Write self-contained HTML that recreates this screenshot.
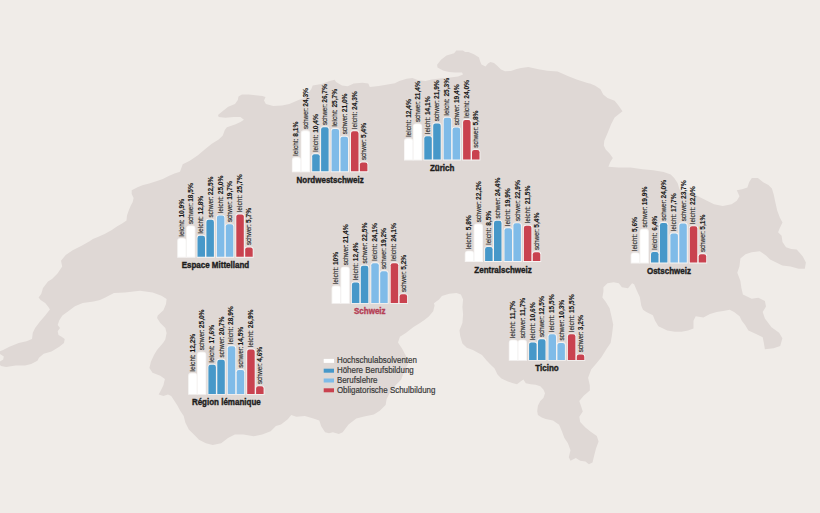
<!DOCTYPE html>
<html><head><meta charset="utf-8"><style>
html,body{margin:0;padding:0;background:#f0ece8;}
svg{display:block;}
.bar{stroke:#f6f4f3;stroke-width:1.8px;paint-order:stroke;}
.l{font-family:"Liberation Sans",sans-serif;font-size:7.0px;fill:#2e2e2e;stroke:#2e2e2e;stroke-width:0.16px;}
.s{letter-spacing:-0.3px;}
.b{font-weight:bold;fill:#161616;stroke:#161616;stroke-width:0.1px;}
.t{font-family:"Liberation Sans",sans-serif;font-size:8.0px;font-weight:bold;text-anchor:middle;stroke-width:0.35px;}
.lg{font-family:"Liberation Sans",sans-serif;font-size:8.2px;fill:#383838;stroke:#383838;stroke-width:0.18px;}
</style></head><body>
<svg width="820" height="513" viewBox="0 0 820 513">
<rect width="820" height="513" fill="#f0ece8"/>
<path d="M-2.0,352.3 L3.1,349.9 L9.4,346.8 L18.7,342.9 L26.5,341.3 L32.0,339.0 L32.8,332.8 L35.1,328.1 L39.8,321.8 L45.2,315.6 L49.9,309.4 L48.4,307.0 L45.2,303.1 L40.6,300.0 L38.6,297.5 L41.2,294.0 L43.0,288.0 L48.0,281.5 L52.0,279.0 L57.5,273.6 L62.2,266.5 L61.0,260.7 L65.7,254.9 L72.7,250.2 L82.1,245.5 L90.0,240.9 L92.9,238.9 L97.8,237.0 L104.6,234.1 L111.4,230.2 L117.3,226.3 L122.1,223.4 L126.5,220.4 L127.0,215.6 L129.0,209.7 L130.7,205.8 L132.7,201.9 L133.6,198.0 L131.7,194.1 L131.7,190.2 L137.5,187.3 L142.4,185.3 L149.2,183.4 L157.0,180.9 L162.8,179.0 L168.7,176.1 L174.5,173.6 L180.0,171.7 L182.7,164.3 L189.8,160.8 L196.8,156.0 L198.2,155.0 L205.0,149.2 L211.8,143.7 L218.7,139.6 L222.8,135.5 L224.8,130.0 L226.9,127.3 L235.0,124.6 L240.5,121.9 L243.9,119.8 L240.5,117.1 L233.7,117.1 L225.5,117.8 L218.7,117.1 L218.0,115.0 L222.8,110.9 L228.2,106.8 L235.0,104.1 L237.8,100.0 L238.5,96.6 L241.9,94.6 L248.7,94.6 L255.5,95.2 L262.4,95.9 L265.5,97.0 L264.0,100.5 L265.9,103.9 L273.2,106.1 L282.0,105.4 L289.3,103.9 L298.0,100.2 L303.9,98.0 L311.2,89.3 L312.7,85.6 L321.5,84.1 L328.8,81.2 L334.6,79.8 L336.1,82.0 L342.0,85.6 L347.8,86.3 L353.7,83.4 L362.4,82.7 L368.3,83.4 L369.8,87.1 L378.8,86.1 L387.6,84.6 L394.9,83.2 L399.3,81.0 L406.6,78.8 L412.4,78.0 L418.3,80.2 L425.6,81.0 L431.5,79.5 L440.0,78.5 L450.0,77.5 L458.0,76.5 L463.0,74.5 L462.0,72.5 L455.0,72.5 L449.0,72.0 L443.0,70.5 L437.5,67.5 L437.1,64.7 L441.0,59.8 L446.5,55.4 L454.1,53.2 L456.3,50.4 L462.9,50.4 L465.1,52.1 L468.4,52.1 L473.9,54.3 L478.3,57.0 L479.0,57.5 L480.2,61.5 L481.5,64.5 L485.5,66.5 L488.0,63.5 L490.5,62.0 L494.0,63.0 L497.5,66.0 L501.0,69.5 L505.0,71.2 L511.0,71.0 L516.7,69.0 L521.0,68.0 L528.3,67.1 L538.5,69.3 L547.3,70.7 L557.6,71.5 L567.8,75.9 L576.6,79.5 L588.3,83.2 L590.0,83.5 L595.3,85.8 L600.5,89.3 L603.2,94.6 L607.5,98.1 L614.6,100.7 L618.1,105.1 L622.5,111.2 L619.0,113.9 L614.6,117.4 L611.0,124.4 L607.5,133.2 L604.3,140.7 L603.8,145.6 L605.7,149.5 L609.6,153.4 L612.8,157.9 L610.2,162.3 L608.4,166.7 L618.1,167.5 L630.4,167.5 L642.6,169.3 L653.2,170.2 L663.7,171.9 L670.7,174.6 L674.2,178.1 L677.7,183.3 L679.5,189.5 L686.5,192.1 L695.3,194.7 L700.0,197.2 L707.0,200.7 L714.0,204.2 L722.8,206.0 L731.6,204.2 L736.8,200.7 L739.5,196.3 L736.8,190.2 L742.1,189.3 L747.4,187.5 L749.1,182.3 L751.8,177.9 L757.9,177.9 L763.2,182.3 L768.4,184.9 L771.9,188.4 L773.7,194.6 L775.4,202.5 L777.2,210.4 L779.8,217.4 L782.5,222.6 L779.8,227.9 L778.1,232.3 L781.6,235.8 L782.5,241.9 L786.0,247.2 L791.2,248.9 L796.7,249.5 L802.8,256.4 L805.9,262.5 L804.8,268.7 L798.7,268.7 L790.5,266.6 L782.3,265.6 L776.2,262.5 L770.1,259.4 L766.0,255.4 L759.8,251.3 L751.6,252.3 L745.5,254.3 L740.4,258.4 L739.4,266.6 L737.3,272.7 L740.4,281.0 L741.4,288.1 L742.9,294.4 L751.7,298.8 L758.3,297.7 L764.9,301.0 L766.0,306.5 L762.7,311.9 L764.9,318.5 L771.5,327.3 L779.1,332.8 L782.4,338.3 L780.2,346.0 L773.6,348.2 L764.9,349.3 L763.8,342.7 L762.7,337.2 L756.1,333.9 L748.4,330.6 L745.1,325.1 L741.8,320.7 L739.6,316.3 L734.1,311.9 L729.7,309.8 L723.2,310.9 L716.6,311.9 L710.0,314.1 L703.4,317.4 L695.7,316.3 L693.5,320.7 L693.5,328.4 L688.0,330.6 L681.5,331.7 L674.9,331.7 L667.2,330.6 L658.4,326.2 L655.1,320.7 L652.9,315.2 L646.3,311.9 L643.0,309.8 L641.3,305.7 L639.8,297.0 L637.0,291.0 L634.1,284.2 L632.1,283.2 L628.0,288.3 L621.9,287.3 L618.8,283.2 L613.7,282.2 L607.5,283.2 L603.4,287.3 L603.4,291.4 L602.4,297.5 L605.5,301.6 L609.6,308.2 L611.5,316.4 L613.2,324.6 L612.0,334.8 L610.6,343.0 L606.5,349.1 L601.4,357.3 L596.3,363.4 L591.2,369.6 L588.1,377.8 L589.8,385.3 L589.8,390.5 L583.7,395.8 L579.3,401.1 L581.1,406.3 L582.8,411.6 L579.3,416.8 L580.2,422.1 L585.4,427.4 L590.7,431.8 L596.8,436.1 L598.6,441.4 L596.0,448.4 L594.2,455.4 L592.5,462.5 L588.9,464.2 L585.4,461.6 L580.2,460.7 L575.8,458.1 L570.5,460.7 L568.8,457.2 L570.5,450.2 L567.9,443.2 L564.4,437.9 L561.8,430.9 L559.1,424.7 L553.0,420.4 L545.7,419.0 L541.8,417.4 L537.9,415.1 L537.2,411.2 L537.9,405.7 L540.3,401.1 L543.4,398.0 L545.0,393.3 L543.4,389.4 L540.3,386.2 L535.6,384.7 L530.7,384.2 L525.8,383.3 L523.4,379.4 L520.9,381.3 L517.0,384.2 L513.1,383.3 L507.3,381.3 L501.4,378.4 L497.5,374.5 L494.6,368.6 L490.7,364.7 L486.8,360.8 L482.0,355.0 L472.9,350.0 L466.8,347.8 L462.4,343.5 L460.2,336.1 L459.5,330.3 L462.4,323.0 L463.1,314.2 L462.4,306.9 L463.1,299.6 L460.9,294.5 L456.5,293.0 L449.2,293.8 L441.9,296.0 L439.0,299.6 L433.9,303.3 L434.6,305.5 L433.2,311.3 L428.8,316.4 L424.4,320.1 L420.0,323.0 L413.5,327.0 L405.8,332.9 L399.9,336.8 L398.0,342.6 L402.0,348.5 L406.0,356.0 L408.0,364.0 L404.0,372.0 L401.2,379.5 L395.4,385.4 L389.5,393.2 L386.6,399.0 L385.6,404.9 L379.8,410.7 L373.9,414.6 L364.1,416.6 L356.3,418.5 L348.5,424.4 L342.7,432.2 L338.8,434.1 L332.9,432.2 L329.0,433.2 L325.1,432.2 L321.2,426.3 L319.3,420.5 L313.4,418.5 L304.9,415.9 L296.3,416.7 L291.2,415.0 L287.8,419.3 L281.0,424.4 L275.9,426.1 L270.7,431.2 L262.2,434.6 L253.7,436.3 L243.4,434.6 L234.9,434.6 L228.0,438.0 L221.2,443.2 L212.7,444.9 L205.9,443.2 L199.0,439.8 L193.9,434.6 L188.8,429.5 L185.4,422.7 L183.7,415.9 L180.2,410.7 L177.4,405.5 L174.3,400.8 L171.2,396.1 L168.0,394.5 L163.4,396.1 L158.7,394.5 L160.3,391.4 L163.4,385.2 L164.9,379.0 L160.3,375.8 L152.5,372.7 L149.4,368.0 L150.9,361.8 L154.0,355.0 L157.0,350.0 L160.0,346.5 L163.0,343.0 L165.3,339.4 L166.6,333.1 L165.3,328.0 L160.3,323.0 L157.1,317.9 L157.7,315.4 L163.4,310.3 L166.0,304.0 L166.6,298.9 L161.5,295.8 L152.7,292.6 L140.0,290.7 L124.9,292.5 L114.0,293.0 L105.3,297.5 L100.0,300.0 L93.6,301.6 L82.7,303.1 L74.9,306.2 L68.6,310.9 L62.4,315.6 L59.3,320.3 L57.7,325.0 L60.0,328.1 L57.7,331.2 L58.5,335.1 L61.6,336.7 L64.7,339.0 L64.0,342.9 L59.3,346.8 L51.5,351.5 L43.7,353.8 L39.0,357.7 L37.4,360.8 L31.2,364.0 L25.0,365.5 L15.6,365.5 L6.2,367.0 L1.0,366.0 L-2.0,363.0 L0.0,361.5 L3.2,359.5 L3.8,356.5 L0.0,354.0Z" fill="#dfd8d5"/>
<path d="M292.80,171.30V160.13Q292.80,157.94 295.00,157.94H298.10Q300.30,157.94 300.30,160.13V171.30Z" fill="#ffffff" class="bar"/>
<text transform="translate(298.45,155.63) rotate(-90) scale(0.94,1.12)" class="l"><tspan>leicht: </tspan><tspan class="b">8,1%</tspan></text>
<path d="M301.70,171.30V133.41Q301.70,131.21 303.90,131.21H307.00Q309.20,131.21 309.20,133.41V171.30Z" fill="#ffffff" class="bar"/>
<text transform="translate(307.95,128.91) rotate(-90) scale(0.94,1.12)" class="l"><tspan class="s">schwer: </tspan><tspan class="b">24,3%</tspan></text>
<path d="M312.20,171.30V156.34Q312.20,154.14 314.40,154.14H317.50Q319.70,154.14 319.70,156.34V171.30Z" fill="#4798c9" class="bar"/>
<text transform="translate(317.85,151.84) rotate(-90) scale(0.94,1.12)" class="l"><tspan>leicht: </tspan><tspan class="b">10,4%</tspan></text>
<path d="M321.10,171.30V129.44Q321.10,127.25 323.30,127.25H326.40Q328.60,127.25 328.60,129.44V171.30Z" fill="#4798c9" class="bar"/>
<text transform="translate(327.35,124.95) rotate(-90) scale(0.94,1.12)" class="l"><tspan class="s">schwer: </tspan><tspan class="b">26,7%</tspan></text>
<path d="M331.60,171.30V131.09Q331.60,128.90 333.80,128.90H336.90Q339.10,128.90 339.10,131.09V171.30Z" fill="#7fbbe8" class="bar"/>
<text transform="translate(337.25,126.60) rotate(-90) scale(0.94,1.12)" class="l"><tspan>leicht: </tspan><tspan class="b">25,7%</tspan></text>
<path d="M340.50,171.30V138.85Q340.50,136.65 342.70,136.65H345.80Q348.00,136.65 348.00,138.85V171.30Z" fill="#7fbbe8" class="bar"/>
<text transform="translate(346.75,134.35) rotate(-90) scale(0.94,1.12)" class="l"><tspan class="s">schwer: </tspan><tspan class="b">21,0%</tspan></text>
<path d="M351.00,171.30V133.41Q351.00,131.21 353.20,131.21H356.30Q358.50,131.21 358.50,133.41V171.30Z" fill="#c9424f" class="bar"/>
<text transform="translate(356.65,128.91) rotate(-90) scale(0.94,1.12)" class="l"><tspan>leicht: </tspan><tspan class="b">24,3%</tspan></text>
<path d="M359.90,171.30V164.59Q359.90,162.39 362.10,162.39H365.20Q367.40,162.39 367.40,164.59V171.30Z" fill="#c9424f" class="bar"/>
<text transform="translate(366.15,160.09) rotate(-90) scale(0.94,1.12)" class="l"><tspan class="s">schwer: </tspan><tspan class="b">5,4%</tspan></text>
<text transform="translate(330.10,182.70) scale(1,1.2)" class="t" fill="#1d1d1d" stroke="#1d1d1d">Nordwestschweiz</text>
<path d="M404.90,159.60V141.34Q404.90,139.14 407.10,139.14H410.20Q412.40,139.14 412.40,141.34V159.60Z" fill="#ffffff" class="bar"/>
<text transform="translate(410.55,136.84) rotate(-90) scale(0.94,1.12)" class="l"><tspan>leicht: </tspan><tspan class="b">12,4%</tspan></text>
<path d="M413.80,159.60V126.49Q413.80,124.29 416.00,124.29H419.10Q421.30,124.29 421.30,126.49V159.60Z" fill="#ffffff" class="bar"/>
<text transform="translate(420.05,121.99) rotate(-90) scale(0.94,1.12)" class="l"><tspan class="s">schwer: </tspan><tspan class="b">21,4%</tspan></text>
<path d="M424.30,159.60V138.53Q424.30,136.34 426.50,136.34H429.60Q431.80,136.34 431.80,138.53V159.60Z" fill="#4798c9" class="bar"/>
<text transform="translate(429.95,134.03) rotate(-90) scale(0.94,1.12)" class="l"><tspan>leicht: </tspan><tspan class="b">14,1%</tspan></text>
<path d="M433.20,159.60V125.67Q433.20,123.47 435.40,123.47H438.50Q440.70,123.47 440.70,125.67V159.60Z" fill="#4798c9" class="bar"/>
<text transform="translate(439.45,121.17) rotate(-90) scale(0.94,1.12)" class="l"><tspan class="s">schwer: </tspan><tspan class="b">21,9%</tspan></text>
<path d="M443.70,159.60V120.05Q443.70,117.85 445.90,117.85H449.00Q451.20,117.85 451.20,120.05V159.60Z" fill="#7fbbe8" class="bar"/>
<text transform="translate(449.35,115.55) rotate(-90) scale(0.94,1.12)" class="l"><tspan>leicht: </tspan><tspan class="b">25,3%</tspan></text>
<path d="M452.60,159.60V129.79Q452.60,127.59 454.80,127.59H457.90Q460.10,127.59 460.10,129.79V159.60Z" fill="#7fbbe8" class="bar"/>
<text transform="translate(458.85,125.29) rotate(-90) scale(0.94,1.12)" class="l"><tspan class="s">schwer: </tspan><tspan class="b">19,4%</tspan></text>
<path d="M463.10,159.60V122.20Q463.10,120.00 465.30,120.00H468.40Q470.60,120.00 470.60,122.20V159.60Z" fill="#c9424f" class="bar"/>
<text transform="translate(468.75,117.70) rotate(-90) scale(0.94,1.12)" class="l"><tspan>leicht: </tspan><tspan class="b">24,0%</tspan></text>
<path d="M472.00,159.60V152.23Q472.00,150.03 474.20,150.03H477.30Q479.50,150.03 479.50,152.23V159.60Z" fill="#c9424f" class="bar"/>
<text transform="translate(478.25,147.73) rotate(-90) scale(0.94,1.12)" class="l"><tspan class="s">schwer: </tspan><tspan class="b">5,8%</tspan></text>
<text transform="translate(442.20,171.00) scale(1,1.2)" class="t" fill="#1d1d1d" stroke="#1d1d1d">Zürich</text>
<path d="M178.10,256.80V241.01Q178.10,238.81 180.30,238.81H183.40Q185.60,238.81 185.60,241.01V256.80Z" fill="#ffffff" class="bar"/>
<text transform="translate(183.75,236.51) rotate(-90) scale(0.94,1.12)" class="l"><tspan>leicht: </tspan><tspan class="b">10,9%</tspan></text>
<path d="M187.00,256.80V228.47Q187.00,226.28 189.20,226.28H192.30Q194.50,226.28 194.50,228.47V256.80Z" fill="#ffffff" class="bar"/>
<text transform="translate(193.25,223.97) rotate(-90) scale(0.94,1.12)" class="l"><tspan class="s">schwer: </tspan><tspan class="b">18,5%</tspan></text>
<path d="M197.50,256.80V237.88Q197.50,235.68 199.70,235.68H202.80Q205.00,235.68 205.00,237.88V256.80Z" fill="#4798c9" class="bar"/>
<text transform="translate(203.15,233.38) rotate(-90) scale(0.94,1.12)" class="l"><tspan>leicht: </tspan><tspan class="b">12,8%</tspan></text>
<path d="M206.40,256.80V221.88Q206.40,219.68 208.60,219.68H211.70Q213.90,219.68 213.90,221.88V256.80Z" fill="#4798c9" class="bar"/>
<text transform="translate(212.65,217.38) rotate(-90) scale(0.94,1.12)" class="l"><tspan class="s">schwer: </tspan><tspan class="b">22,5%</tspan></text>
<path d="M216.90,256.80V217.75Q216.90,215.55 219.10,215.55H222.20Q224.40,215.55 224.40,217.75V256.80Z" fill="#7fbbe8" class="bar"/>
<text transform="translate(222.55,213.25) rotate(-90) scale(0.94,1.12)" class="l"><tspan>leicht: </tspan><tspan class="b">25,0%</tspan></text>
<path d="M225.80,256.80V226.50Q225.80,224.30 228.00,224.30H231.10Q233.30,224.30 233.30,226.50V256.80Z" fill="#7fbbe8" class="bar"/>
<text transform="translate(232.05,222.00) rotate(-90) scale(0.94,1.12)" class="l"><tspan class="s">schwer: </tspan><tspan class="b">19,7%</tspan></text>
<path d="M236.30,256.80V216.59Q236.30,214.40 238.50,214.40H241.60Q243.80,214.40 243.80,216.59V256.80Z" fill="#c9424f" class="bar"/>
<text transform="translate(241.95,212.09) rotate(-90) scale(0.94,1.12)" class="l"><tspan>leicht: </tspan><tspan class="b">25,7%</tspan></text>
<path d="M245.20,256.80V249.59Q245.20,247.40 247.40,247.40H250.50Q252.70,247.40 252.70,249.59V256.80Z" fill="#c9424f" class="bar"/>
<text transform="translate(251.45,245.09) rotate(-90) scale(0.94,1.12)" class="l"><tspan class="s">schwer: </tspan><tspan class="b">5,7%</tspan></text>
<text transform="translate(215.40,268.20) scale(1,1.2)" class="t" fill="#1d1d1d" stroke="#1d1d1d">Espace Mittelland</text>
<path d="M332.50,302.90V288.60Q332.50,286.40 334.70,286.40H337.80Q340.00,286.40 340.00,288.60V302.90Z" fill="#ffffff" class="bar"/>
<text transform="translate(338.15,284.10) rotate(-90) scale(0.94,1.12)" class="l"><tspan>leicht: </tspan><tspan class="b">10%</tspan></text>
<path d="M341.40,302.90V269.79Q341.40,267.59 343.60,267.59H346.70Q348.90,267.59 348.90,269.79V302.90Z" fill="#ffffff" class="bar"/>
<text transform="translate(347.65,265.29) rotate(-90) scale(0.94,1.12)" class="l"><tspan class="s">schwer: </tspan><tspan class="b">21,4%</tspan></text>
<path d="M351.90,302.90V284.64Q351.90,282.44 354.10,282.44H357.20Q359.40,282.44 359.40,284.64V302.90Z" fill="#4798c9" class="bar"/>
<text transform="translate(357.55,280.14) rotate(-90) scale(0.94,1.12)" class="l"><tspan>leicht: </tspan><tspan class="b">12,4%</tspan></text>
<path d="M360.80,302.90V267.97Q360.80,265.77 363.00,265.77H366.10Q368.30,265.77 368.30,267.97V302.90Z" fill="#4798c9" class="bar"/>
<text transform="translate(367.05,263.47) rotate(-90) scale(0.94,1.12)" class="l"><tspan class="s">schwer: </tspan><tspan class="b">22,5%</tspan></text>
<path d="M371.30,302.90V265.33Q371.30,263.13 373.50,263.13H376.60Q378.80,263.13 378.80,265.33V302.90Z" fill="#7fbbe8" class="bar"/>
<text transform="translate(376.95,260.83) rotate(-90) scale(0.94,1.12)" class="l"><tspan>leicht: </tspan><tspan class="b">24,1%</tspan></text>
<path d="M380.20,302.90V273.42Q380.20,271.22 382.40,271.22H385.50Q387.70,271.22 387.70,273.42V302.90Z" fill="#7fbbe8" class="bar"/>
<text transform="translate(386.45,268.92) rotate(-90) scale(0.94,1.12)" class="l"><tspan class="s">schwer: </tspan><tspan class="b">19,2%</tspan></text>
<path d="M390.70,302.90V265.33Q390.70,263.13 392.90,263.13H396.00Q398.20,263.13 398.20,265.33V302.90Z" fill="#c9424f" class="bar"/>
<text transform="translate(396.35,260.83) rotate(-90) scale(0.94,1.12)" class="l"><tspan>leicht: </tspan><tspan class="b">24,1%</tspan></text>
<path d="M399.60,302.90V296.52Q399.60,294.32 401.80,294.32H404.90Q407.10,294.32 407.10,296.52V302.90Z" fill="#c9424f" class="bar"/>
<text transform="translate(405.85,292.02) rotate(-90) scale(0.94,1.12)" class="l"><tspan class="s">schwer: </tspan><tspan class="b">5,2%</tspan></text>
<text transform="translate(369.80,314.30) scale(1,1.2)" class="t" fill="#b53f55" stroke="#b53f55">Schweiz</text>
<path d="M465.70,261.10V253.73Q465.70,251.53 467.90,251.53H471.00Q473.20,251.53 473.20,253.73V261.10Z" fill="#ffffff" class="bar"/>
<text transform="translate(471.35,249.23) rotate(-90) scale(0.94,1.12)" class="l"><tspan>leicht: </tspan><tspan class="b">5,8%</tspan></text>
<path d="M474.60,261.10V226.67Q474.60,224.47 476.80,224.47H479.90Q482.10,224.47 482.10,226.67V261.10Z" fill="#ffffff" class="bar"/>
<text transform="translate(480.85,222.17) rotate(-90) scale(0.94,1.12)" class="l"><tspan class="s">schwer: </tspan><tspan class="b">22,2%</tspan></text>
<path d="M485.10,261.10V249.28Q485.10,247.08 487.30,247.08H490.40Q492.60,247.08 492.60,249.28V261.10Z" fill="#4798c9" class="bar"/>
<text transform="translate(490.75,244.78) rotate(-90) scale(0.94,1.12)" class="l"><tspan>leicht: </tspan><tspan class="b">8,5%</tspan></text>
<path d="M494.00,261.10V223.04Q494.00,220.84 496.20,220.84H499.30Q501.50,220.84 501.50,223.04V261.10Z" fill="#4798c9" class="bar"/>
<text transform="translate(500.25,218.54) rotate(-90) scale(0.94,1.12)" class="l"><tspan class="s">schwer: </tspan><tspan class="b">24,4%</tspan></text>
<path d="M504.50,261.10V230.47Q504.50,228.27 506.70,228.27H509.80Q512.00,228.27 512.00,230.47V261.10Z" fill="#7fbbe8" class="bar"/>
<text transform="translate(510.15,225.97) rotate(-90) scale(0.94,1.12)" class="l"><tspan>leicht: </tspan><tspan class="b">19,9%</tspan></text>
<path d="M513.40,261.10V225.52Q513.40,223.32 515.60,223.32H518.70Q520.90,223.32 520.90,225.52V261.10Z" fill="#7fbbe8" class="bar"/>
<text transform="translate(519.65,221.02) rotate(-90) scale(0.94,1.12)" class="l"><tspan class="s">schwer: </tspan><tspan class="b">22,9%</tspan></text>
<path d="M523.90,261.10V227.83Q523.90,225.63 526.10,225.63H529.20Q531.40,225.63 531.40,227.83V261.10Z" fill="#c9424f" class="bar"/>
<text transform="translate(529.55,223.33) rotate(-90) scale(0.94,1.12)" class="l"><tspan>leicht: </tspan><tspan class="b">21,5%</tspan></text>
<path d="M532.80,261.10V254.39Q532.80,252.19 535.00,252.19H538.10Q540.30,252.19 540.30,254.39V261.10Z" fill="#c9424f" class="bar"/>
<text transform="translate(539.05,249.89) rotate(-90) scale(0.94,1.12)" class="l"><tspan class="s">schwer: </tspan><tspan class="b">5,4%</tspan></text>
<text transform="translate(503.00,272.50) scale(1,1.2)" class="t" fill="#1d1d1d" stroke="#1d1d1d">Zentralschweiz</text>
<path d="M631.60,262.60V255.56Q631.60,253.36 633.80,253.36H636.90Q639.10,253.36 639.10,255.56V262.60Z" fill="#ffffff" class="bar"/>
<text transform="translate(637.25,251.06) rotate(-90) scale(0.94,1.12)" class="l"><tspan>leicht: </tspan><tspan class="b">5,6%</tspan></text>
<path d="M640.50,262.60V231.97Q640.50,229.77 642.70,229.77H645.80Q648.00,229.77 648.00,231.97V262.60Z" fill="#ffffff" class="bar"/>
<text transform="translate(646.75,227.47) rotate(-90) scale(0.94,1.12)" class="l"><tspan class="s">schwer: </tspan><tspan class="b">19,9%</tspan></text>
<path d="M651.00,262.60V254.24Q651.00,252.04 653.20,252.04H656.30Q658.50,252.04 658.50,254.24V262.60Z" fill="#4798c9" class="bar"/>
<text transform="translate(656.65,249.74) rotate(-90) scale(0.94,1.12)" class="l"><tspan>leicht: </tspan><tspan class="b">6,4%</tspan></text>
<path d="M659.90,262.60V225.20Q659.90,223.00 662.10,223.00H665.20Q667.40,223.00 667.40,225.20V262.60Z" fill="#4798c9" class="bar"/>
<text transform="translate(666.15,220.70) rotate(-90) scale(0.94,1.12)" class="l"><tspan class="s">schwer: </tspan><tspan class="b">24,0%</tspan></text>
<path d="M670.40,262.60V235.60Q670.40,233.40 672.60,233.40H675.70Q677.90,233.40 677.90,235.60V262.60Z" fill="#7fbbe8" class="bar"/>
<text transform="translate(676.05,231.10) rotate(-90) scale(0.94,1.12)" class="l"><tspan>leicht: </tspan><tspan class="b">17,7%</tspan></text>
<path d="M679.30,262.60V225.70Q679.30,223.50 681.50,223.50H684.60Q686.80,223.50 686.80,225.70V262.60Z" fill="#7fbbe8" class="bar"/>
<text transform="translate(685.55,221.20) rotate(-90) scale(0.94,1.12)" class="l"><tspan class="s">schwer: </tspan><tspan class="b">23,7%</tspan></text>
<path d="M689.80,262.60V228.50Q689.80,226.30 692.00,226.30H695.10Q697.30,226.30 697.30,228.50V262.60Z" fill="#c9424f" class="bar"/>
<text transform="translate(695.45,224.00) rotate(-90) scale(0.94,1.12)" class="l"><tspan>leicht: </tspan><tspan class="b">22,0%</tspan></text>
<path d="M698.70,262.60V256.39Q698.70,254.19 700.90,254.19H704.00Q706.20,254.19 706.20,256.39V262.60Z" fill="#c9424f" class="bar"/>
<text transform="translate(704.95,251.89) rotate(-90) scale(0.94,1.12)" class="l"><tspan class="s">schwer: </tspan><tspan class="b">5,1%</tspan></text>
<text transform="translate(668.90,274.00) scale(1,1.2)" class="t" fill="#1d1d1d" stroke="#1d1d1d">Ostschweiz</text>
<path d="M189.00,393.90V375.97Q189.00,373.77 191.20,373.77H194.30Q196.50,373.77 196.50,375.97V393.90Z" fill="#ffffff" class="bar"/>
<text transform="translate(194.65,371.47) rotate(-90) scale(0.94,1.12)" class="l"><tspan>leicht: </tspan><tspan class="b">12,2%</tspan></text>
<path d="M197.90,393.90V354.85Q197.90,352.65 200.10,352.65H203.20Q205.40,352.65 205.40,354.85V393.90Z" fill="#ffffff" class="bar"/>
<text transform="translate(204.15,350.35) rotate(-90) scale(0.94,1.12)" class="l"><tspan class="s">schwer: </tspan><tspan class="b">25,0%</tspan></text>
<path d="M208.40,393.90V367.06Q208.40,364.86 210.60,364.86H213.70Q215.90,364.86 215.90,367.06V393.90Z" fill="#4798c9" class="bar"/>
<text transform="translate(214.05,362.56) rotate(-90) scale(0.94,1.12)" class="l"><tspan>leicht: </tspan><tspan class="b">17,6%</tspan></text>
<path d="M217.30,393.90V361.94Q217.30,359.75 219.50,359.75H222.60Q224.80,359.75 224.80,361.94V393.90Z" fill="#4798c9" class="bar"/>
<text transform="translate(223.55,357.44) rotate(-90) scale(0.94,1.12)" class="l"><tspan class="s">schwer: </tspan><tspan class="b">20,7%</tspan></text>
<path d="M227.80,393.90V348.41Q227.80,346.21 230.00,346.21H233.10Q235.30,346.21 235.30,348.41V393.90Z" fill="#7fbbe8" class="bar"/>
<text transform="translate(233.45,343.91) rotate(-90) scale(0.94,1.12)" class="l"><tspan>leicht: </tspan><tspan class="b">28,9%</tspan></text>
<path d="M236.70,393.90V372.17Q236.70,369.97 238.90,369.97H242.00Q244.20,369.97 244.20,372.17V393.90Z" fill="#7fbbe8" class="bar"/>
<text transform="translate(242.95,367.67) rotate(-90) scale(0.94,1.12)" class="l"><tspan class="s">schwer: </tspan><tspan class="b">14,5%</tspan></text>
<path d="M247.20,393.90V351.71Q247.20,349.51 249.40,349.51H252.50Q254.70,349.51 254.70,351.71V393.90Z" fill="#c9424f" class="bar"/>
<text transform="translate(252.85,347.21) rotate(-90) scale(0.94,1.12)" class="l"><tspan>leicht: </tspan><tspan class="b">26,9%</tspan></text>
<path d="M256.10,393.90V388.51Q256.10,386.31 258.30,386.31H261.40Q263.60,386.31 263.60,388.51V393.90Z" fill="#c9424f" class="bar"/>
<text transform="translate(262.35,384.01) rotate(-90) scale(0.94,1.12)" class="l"><tspan class="s">schwer: </tspan><tspan class="b">4,6%</tspan></text>
<text transform="translate(226.30,405.30) scale(1,1.2)" class="t" fill="#1d1d1d" stroke="#1d1d1d">Région lémanique</text>
<path d="M509.70,359.90V342.79Q509.70,340.59 511.90,340.59H515.00Q517.20,340.59 517.20,342.79V359.90Z" fill="#ffffff" class="bar"/>
<text transform="translate(515.35,338.29) rotate(-90) scale(0.94,1.12)" class="l"><tspan>leicht: </tspan><tspan class="b">11,7%</tspan></text>
<path d="M518.60,359.90V342.79Q518.60,340.59 520.80,340.59H523.90Q526.10,340.59 526.10,342.79V359.90Z" fill="#ffffff" class="bar"/>
<text transform="translate(524.85,338.29) rotate(-90) scale(0.94,1.12)" class="l"><tspan class="s">schwer: </tspan><tspan class="b">11,7%</tspan></text>
<path d="M529.10,359.90V344.61Q529.10,342.41 531.30,342.41H534.40Q536.60,342.41 536.60,344.61V359.90Z" fill="#4798c9" class="bar"/>
<text transform="translate(534.75,340.11) rotate(-90) scale(0.94,1.12)" class="l"><tspan>leicht: </tspan><tspan class="b">10,6%</tspan></text>
<path d="M538.00,359.90V341.47Q538.00,339.27 540.20,339.27H543.30Q545.50,339.27 545.50,341.47V359.90Z" fill="#4798c9" class="bar"/>
<text transform="translate(544.25,336.97) rotate(-90) scale(0.94,1.12)" class="l"><tspan class="s">schwer: </tspan><tspan class="b">12,5%</tspan></text>
<path d="M548.50,359.90V336.52Q548.50,334.32 550.70,334.32H553.80Q556.00,334.32 556.00,336.52V359.90Z" fill="#7fbbe8" class="bar"/>
<text transform="translate(554.15,332.02) rotate(-90) scale(0.94,1.12)" class="l"><tspan>leicht: </tspan><tspan class="b">15,5%</tspan></text>
<path d="M557.40,359.90V345.10Q557.40,342.90 559.60,342.90H562.70Q564.90,342.90 564.90,345.10V359.90Z" fill="#7fbbe8" class="bar"/>
<text transform="translate(563.65,340.60) rotate(-90) scale(0.94,1.12)" class="l"><tspan class="s">schwer: </tspan><tspan class="b">10,3%</tspan></text>
<path d="M567.90,359.90V336.52Q567.90,334.32 570.10,334.32H573.20Q575.40,334.32 575.40,336.52V359.90Z" fill="#c9424f" class="bar"/>
<text transform="translate(573.55,332.02) rotate(-90) scale(0.94,1.12)" class="l"><tspan>leicht: </tspan><tspan class="b">15,5%</tspan></text>
<path d="M576.80,359.90V356.82Q576.80,354.62 579.00,354.62H582.10Q584.30,354.62 584.30,356.82V359.90Z" fill="#c9424f" class="bar"/>
<text transform="translate(583.05,352.32) rotate(-90) scale(0.94,1.12)" class="l"><tspan class="s">schwer: </tspan><tspan class="b">3,2%</tspan></text>
<text transform="translate(547.00,371.30) scale(1,1.2)" class="t" fill="#1d1d1d" stroke="#1d1d1d">Ticino</text>
<rect x="323.7" y="358.90" width="10.3" height="4" fill="#ffffff"/>
<text transform="translate(336.9,363.10) scale(0.97,1.13)" class="lg">Hochschulabsolventen</text>
<rect x="323.7" y="368.70" width="10.3" height="4" fill="#4798c9"/>
<text transform="translate(336.9,372.90) scale(0.97,1.13)" class="lg">Höhere Berufsbildung</text>
<rect x="323.7" y="378.50" width="10.3" height="4" fill="#7fbbe8"/>
<text transform="translate(336.9,382.70) scale(0.97,1.13)" class="lg">Berufslehre</text>
<rect x="323.7" y="388.30" width="10.3" height="4" fill="#c9424f"/>
<text transform="translate(336.9,392.50) scale(0.97,1.13)" class="lg">Obligatorische Schulbildung</text>
</svg>
</body></html>
